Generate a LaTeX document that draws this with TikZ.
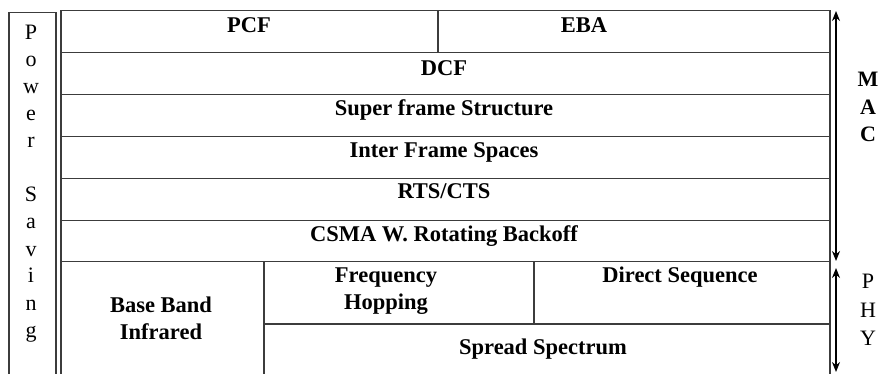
\documentclass[tikz,border=0pt]{standalone}
\usepackage{fontspec}
\setmainfont{Liberation Serif}
\usetikzlibrary{arrows.meta}
\definecolor{linec}{HTML}{3C3C3C}
\tikzset{
  cell/.style={draw=linec, line width=1.5pt, rectangle, anchor=north west, inner sep=0pt},
  lbl/.style={font=\fontsize{22.5}{27}\selectfont\bfseries, anchor=base, inner sep=0pt},
  side/.style={font=\fontsize{22}{27}\selectfont, anchor=base, inner sep=0pt},
  sideb/.style={side, font=\fontsize{22}{27}\selectfont\bfseries},
  dbl/.style={draw=black, line width=1.5pt, {Stealth[length=10pt,width=8pt]}-{Stealth[length=10pt,width=8pt]}}
}
\begin{document}
\begin{tikzpicture}[x=1pt,y=-1pt]
\useasboundingbox (0,0) rectangle (881,374);
% Power saving box
\node[cell, minimum width=47pt, minimum height=372pt] (ps) at (8,12) {};
\foreach \ch [count=\i from 0] in {P,o,w,e,r,{},S,a,v,i,n,g}
  \node[side] (ps\i) at (31,{40+27*\i}) {\ch};
% MAC rows
\node[cell, minimum width=377pt, minimum height=42pt] (pcf) at (60,10) {};
\node[cell, minimum width=392pt, minimum height=42pt] (eba) at (437,10) {};
\node[cell, minimum width=769pt, minimum height=42pt] (dcf) at (60,52) {};
\node[cell, minimum width=769pt, minimum height=42pt] (sfs) at (60,94) {};
\node[cell, minimum width=769pt, minimum height=42pt] (ifs) at (60,136) {};
\node[cell, minimum width=769pt, minimum height=42pt] (rts) at (60,178) {};
\node[cell, minimum width=769pt, minimum height=41pt] (csma) at (60,220) {};
\node[lbl] (pcft) at (249,33) {PCF};
\node[lbl] (ebat) at (584,33) {EBA};
\node[lbl] (dcft) at (444,76) {DCF};
\node[lbl] (sfst) at (444,116) {Super frame Structure};
\node[lbl] (ifst) at (444,158) {Inter Frame Spaces};
\node[lbl] (rtst) at (444,199) {RTS/CTS};
\node[lbl] (csmat) at (444,242) {CSMA W. Rotating Backoff};
% PHY
\node[cell, minimum width=203pt, minimum height=120pt] (bbi) at (60,261) {};
\node[cell, minimum width=270pt, minimum height=62pt] (fh) at (263,261) {};
\node[cell, minimum width=296pt, minimum height=62pt] (ds) at (533,261) {};
\node[cell, minimum width=566pt, minimum height=58pt] (ss) at (263,323) {};
\node[lbl] (bbit1) at (161,312) {Base Band};
\node[lbl] (bbit2) at (161,339) {Infrared};
\node[lbl] (fht1) at (386,282) {Frequency};
\node[lbl] (fht2) at (386,309) {Hopping};
\node[lbl] (dst) at (680,282) {Direct Sequence};
\node[lbl] (sst) at (543,354) {Spread Spectrum};
% arrows
\coordinate (macT) at (836,11);
\coordinate (macB) at (836,261);
\coordinate (phyT) at (836,268);
\coordinate (phyB) at (836,372);
\draw[dbl] (macT) -- (macB);
\draw[dbl] (phyT) -- (phyB);
\node[sideb] (m1) at (868,87) {M};
\node[sideb] (m2) at (868,115) {A};
\node[sideb] (m3) at (868,142) {C};
\node[side] (p1) at (868,288) {P};
\node[side] (p2) at (868,317) {H};
\node[side] (p3) at (868,345) {Y};
\end{tikzpicture}
\end{document}
